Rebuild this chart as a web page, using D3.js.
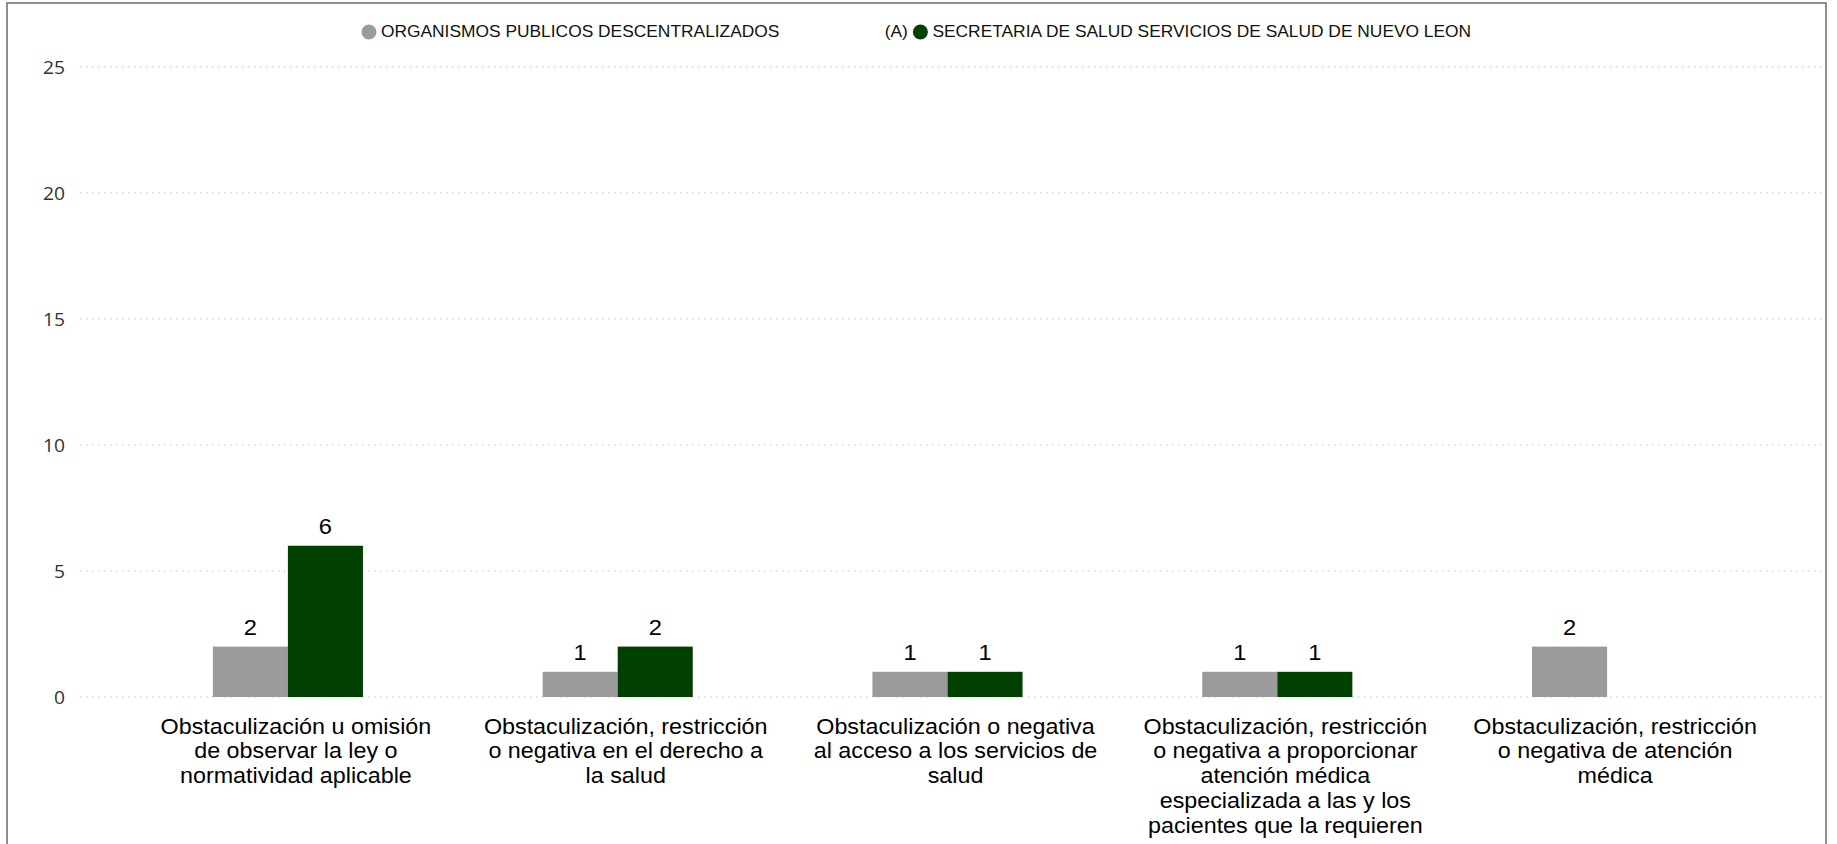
<!DOCTYPE html>
<html>
<head>
<meta charset="utf-8">
<script src="https://cdn.jsdelivr.net/npm/d3@7"></script>
<style>
  html, body { margin: 0; padding: 0; background: #fff; }
  svg { display: block; }
</style>
</head>
<body>
<svg id="chart" width="1837" height="844"></svg>
<script>
// ---------- data ----------
const categories = [
  "Obstaculización u omisión de observar la ley o normatividad aplicable",
  "Obstaculización, restricción o negativa en el derecho a la salud",
  "Obstaculización o negativa al acceso a los servicios de salud",
  "Obstaculización, restricción o negativa a proporcionar atención médica especializada a las y los pacientes que la requieren",
  "Obstaculización, restricción o negativa de atención médica"
];
const seriesNames = [
  "ORGANISMOS PUBLICOS DESCENTRALIZADOS",
  "SECRETARIA DE SALUD SERVICIOS DE SALUD DE NUEVO LEON"
];
const legendPrefix = ["", "(A)"];
const organismos = [2, 1, 1, 1, 2];
const secretaria = [6, 2, 1, 1, null];
const yTicks = [0, 5, 10, 15, 20, 25];
const colors = ["#9b9b9b", "#004000"];

// ---------- layout ----------
const SX = 1.1;                 // horizontal text stretch seen in reference
const svg = d3.select("#chart");
const textFont = "'Liberation Sans', Arial, Helvetica, sans-serif";

// frame
svg.append("rect")
  .attr("x", 7).attr("y", 3).attr("width", 1819).attr("height", 860)
  .attr("fill", "none").attr("stroke", "#6a6a6a").attr("stroke-width", 1.5);

const y = d3.scaleLinear().domain([0, 25]).range([697, 66.8]);
const x0 = d3.scaleBand().domain(categories).range([123, 1772]).paddingInner(0).paddingOuter(0);
const x1 = d3.scaleBand().domain(seriesNames).range([0, x0.bandwidth()]).paddingInner(0).paddingOuter(1.197);

// gridlines
svg.append("g").selectAll("line").data(yTicks).join("line")
  .attr("x1", 80).attr("x2", 1823)
  .attr("y1", d => y(d)).attr("y2", d => y(d))
  .attr("stroke", "#c4c4c4").attr("stroke-width", 1)
  .attr("stroke-dasharray", "1.5,4.5");

// y tick labels
svg.append("g").selectAll("text").data(yTicks).join("text")
  .attr("transform", d => `translate(65,${y(d)}) scale(${SX},1)`)
  .attr("text-anchor", "end").attr("dominant-baseline", "central")
  .style("font-family", "'Open Sans', 'Segoe UI', sans-serif")
  .style("font-size", "17.5px").style("fill", "#333")
  .text(d => d);

// bars
const rows = categories.map((c, i) => ({ cat: c, vals: [organismos[i], secretaria[i]] }));
const groups = svg.append("g").selectAll("g").data(rows).join("g")
  .attr("transform", d => `translate(${x0(d.cat)},0)`);

groups.each(function(d) {
  const g = d3.select(this);
  const items = d.vals.map((v, j) => ({ s: seriesNames[j], v, j })).filter(e => e.v != null);
  g.selectAll("rect").data(items).join("rect")
    .attr("x", e => x1(e.s)).attr("width", x1.bandwidth())
    .attr("y", e => y(e.v)).attr("height", e => y(0) - y(e.v))
    .attr("fill", e => colors[e.j]);
  g.selectAll("text").data(items).join("text")
    .attr("transform", e => `translate(${x1(e.s) + x1.bandwidth() / 2},${y(e.v) - 12}) scale(${SX},1)`)
    .attr("text-anchor", "middle")
    .style("font-family", textFont).style("font-size", "21.5px").style("fill", "#000")
    .text(e => e.v);
});

// category labels (wrapped)
const catFs = 21.2;
const maxW = 12.6 * catFs;
const labelShift = 8;
const catG = svg.append("g");
categories.forEach(c => {
  const cx = x0(c) + x0.bandwidth() / 2 + labelShift;
  const g = catG.append("g").attr("transform", `translate(${cx},733.5) scale(${SX},1)`);
  const t = g.append("text").attr("text-anchor", "middle")
    .style("font-family", textFont).style("font-size", catFs + "px").style("fill", "#000");
  const words = c.split(" ");
  let lines = [], line = [];
  const probe = t.append("tspan");
  words.forEach(w => {
    const test = line.concat(w).join(" ");
    probe.text(test);
    if (probe.node().getComputedTextLength() > maxW && line.length) {
      lines.push(line.join(" "));
      line = [w];
    } else line.push(w);
  });
  lines.push(line.join(" "));
  probe.remove();
  lines.forEach((l, i) => {
    t.append("tspan").attr("x", 0).attr("y", i * 24.8).text(l);
  });
});

// legend
const leg = svg.append("g");
const legFontSize = "15.8px";
const R = 7.5;
function measure(txt) {
  const tmp = leg.append("text").style("font-family", textFont).style("font-size", legFontSize).text(txt);
  const w = tmp.node().getComputedTextLength() * SX;
  tmp.remove();
  return w;
}
const itemGap = 105, prefixGap = 5, circleTextGap = 4.5;
let total = 0;
const itemsInfo = seriesNames.map((s, i) => {
  const pw = legendPrefix[i] ? measure(legendPrefix[i]) : 0;
  const tw = measure(s);
  return { s, i, pw, tw };
});
itemsInfo.forEach((it, k) => {
  total += (it.pw ? it.pw + prefixGap : 0) + 2 * R + circleTextGap + it.tw;
  if (k < itemsInfo.length - 1) total += itemGap;
});
let cursor = (7 + 1826) / 2 - total / 2;
const ly = 32;
itemsInfo.forEach((it, k) => {
  if (it.pw) {
    leg.append("text")
      .attr("transform", `translate(${cursor},${ly}) scale(${SX},1)`)
      .attr("dominant-baseline", "central")
      .style("font-family", textFont).style("font-size", legFontSize).style("fill", "#111")
      .text(legendPrefix[it.i]);
    cursor += it.pw + prefixGap;
  }
  leg.append("circle").attr("cx", cursor + R).attr("cy", ly).attr("r", R).attr("fill", colors[it.i]);
  cursor += 2 * R + circleTextGap;
  leg.append("text")
    .attr("transform", `translate(${cursor},${ly}) scale(${SX},1)`)
    .attr("dominant-baseline", "central")
    .style("font-family", textFont).style("font-size", legFontSize).style("fill", "#111")
    .text(it.s);
  cursor += it.tw + itemGap;
});
</script>
</body>
</html>
